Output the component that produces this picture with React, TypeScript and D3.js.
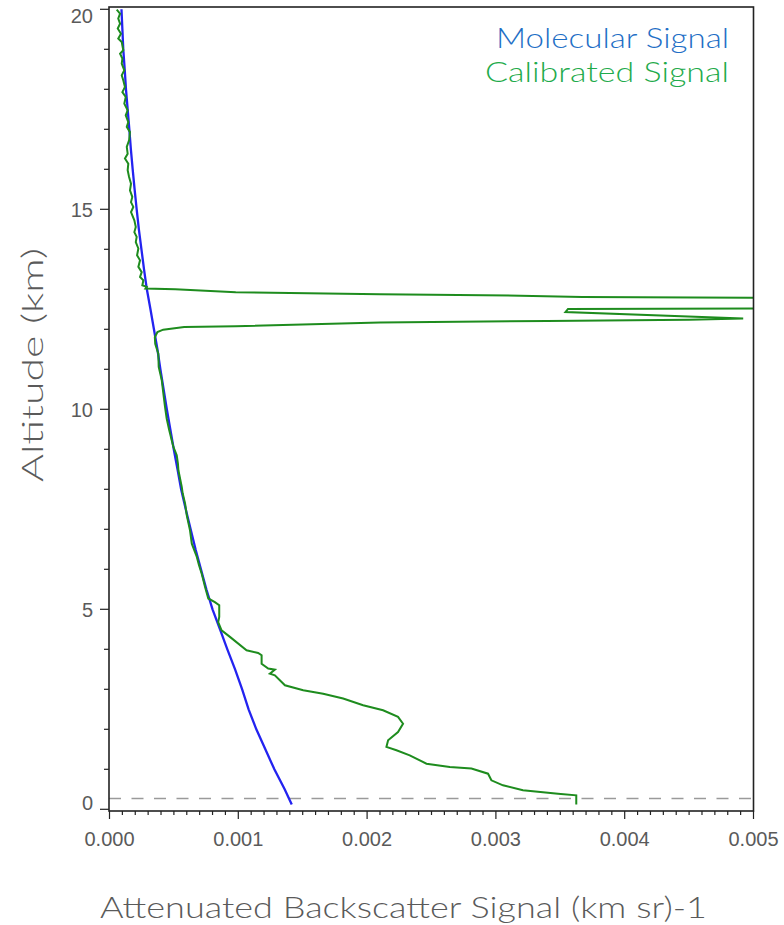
import React from "react";
import * as d3 from "d3";

// Axis ticks
const xTicks = [0, 0.001, 0.002, 0.003, 0.004, 0.005];
const xTickLabels = ["0.000", "0.001", "0.002", "0.003", "0.004", "0.005"];
const yTicks = [0, 5, 10, 15, 20];
const yTickLabels = ["0", "5", "10", "15", "20"];

// Molecular (Rayleigh) attenuated backscatter profile: altitude (km) / signal
const molecularAlt = [
  0.12, 0.5, 1.0, 1.5, 2.0, 2.5, 3.0, 3.5, 4.0, 4.5, 5.0, 5.5, 6.0, 6.5, 7.0,
  7.5, 8.0, 8.5, 9.0, 9.5, 10.0, 10.5, 11.0, 11.5, 12.0, 12.5, 13.0, 13.5, 14.0,
  14.5, 15.0, 15.5, 16.0, 16.5, 17.0, 17.5, 18.0, 18.5, 19.0, 19.5, 20.0,
];
const molecularVal = [
  0.001415, 0.00136, 0.00128, 0.00121, 0.00114, 0.00108, 0.00103, 0.000975,
  0.000915, 0.000858, 0.0008, 0.000752, 0.00071, 0.000668, 0.00063, 0.000592,
  0.000556, 0.000528, 0.000499, 0.000472, 0.000445, 0.00042, 0.000395,
  0.000372, 0.000345, 0.000318, 0.00029, 0.000268, 0.000248, 0.000228,
  0.000211, 0.000195, 0.00018, 0.000166, 0.000154, 0.000141, 0.000128,
  0.000118, 0.000107, 0.0001, 0.000093,
];

// Calibrated lidar profile: altitude (km) / signal (cirrus layer runs off scale)
const calibratedAlt = [
  0.12, 0.35, 0.39, 0.475, 0.6, 0.725, 0.89, 1.02, 1.06, 1.14, 1.35, 1.475,
  1.56, 1.725, 1.93, 2.14, 2.31, 2.475, 2.6, 2.77, 2.89, 2.975, 3.1, 3.35, 3.39,
  3.49, 3.52, 3.64, 3.85, 3.91, 3.975, 4.31, 4.475, 4.68, 4.81, 5.1, 5.18, 5.27,
  5.56, 5.89, 6.1, 6.31, 6.64, 6.975, 7.35, 7.64, 7.9, 8.06, 8.475, 8.65, 8.85,
  9.06, 9.225, 9.5, 9.77, 10.06, 10.4, 10.725, 11.06, 11.39, 11.64, 11.8, 11.93,
  11.99, 12.06, 12.075, 12.17, 12.21, 12.24, 12.27, 12.43, 12.51, 12.53, 12.65,
  12.78, 12.79, 12.81, 12.84, 12.875, 12.925, 13.0, 13.02, 13.06, 13.1, 13.225,
  13.31, 13.43, 13.56, 13.725, 13.85, 14.02, 14.18, 14.31, 14.43, 14.56, 14.725,
  14.93, 15.06, 15.18, 15.31, 15.475, 15.64, 15.81, 15.975, 16.14, 16.27, 16.39,
  16.56, 16.725, 16.93, 17.06, 17.18, 17.35, 17.475, 17.64, 17.81, 17.93, 18.06,
  18.225, 18.35, 18.475, 18.64, 18.77, 18.89, 18.975, 19.18, 19.27, 19.39,
  19.52, 19.64, 19.77, 19.89, 19.99,
];
const calibratedVal = [
  0.003624, 0.003624, 0.003482, 0.00321, 0.003055, 0.002965, 0.002939,
  0.00281, 0.002642, 0.002461, 0.002331, 0.002228, 0.00215, 0.002163, 0.00224,
  0.002279, 0.00224, 0.002124, 0.001969, 0.001814, 0.001659, 0.001504,
  0.001362, 0.001284, 0.001245, 0.001284, 0.001232, 0.001181, 0.001181,
  0.001154, 0.001064, 0.000935, 0.00087, 0.000844, 0.000852, 0.000852,
  0.000818, 0.000767, 0.000742, 0.000716, 0.000695, 0.000678, 0.000639,
  0.000625, 0.0006, 0.000587, 0.000568, 0.000561, 0.000535, 0.000531,
  0.000522, 0.000496, 0.000483, 0.000462, 0.000444, 0.000431, 0.000418,
  0.000406, 0.000382, 0.000379, 0.000355, 0.000352, 0.000372, 0.000417,
  0.00058, 0.00098, 0.0021, 0.0034, 0.0045, 0.00492, 0.00354, 0.00356, 0.0058,
  0.0085, 0.0053, 0.00498, 0.00367, 0.00319, 0.0021, 0.00098, 0.00051, 0.00028,
  0.000289, 0.000255, 0.000263, 0.000237, 0.00025, 0.000224, 0.000237,
  0.000214, 0.000224, 0.000204, 0.000211, 0.000193, 0.000204, 0.000193,
  0.000167, 0.000185, 0.000167, 0.000177, 0.000159, 0.000167, 0.000152,
  0.000141, 0.000146, 0.00012, 0.000141, 0.000134, 0.000152, 0.000159,
  0.000134, 0.000146, 0.000126, 0.000141, 0.000115, 0.000126, 0.0001, 0.00012,
  0.000107, 0.000095, 0.000115, 0.000095, 0.0001, 0.000082, 0.000107, 0.000095,
  0.000068, 0.000089, 0.000064, 0.000082, 0.000068, 0.000082, 0.000056,
];

// Ground reference level (km)
const groundAlt = 0.27;

const legendLabels = ["Molecular Signal", "Calibrated Signal"];
const legendColors = ["#1f6fc6", "#1fab4c"];
const legendWidths = [233, 244];

export default function App() {
  const W = 784;
  const H = 925;
  const frame = { left: 109, right: 753.5, top: 7, bottom: 811 };

  const x = d3.scaleLinear().domain([0, 0.005]).range([109.5, 753.5]);
  const y = d3.scaleLinear().domain([0, 20]).range([809.3, 9.3]);

  const line = d3
    .line<[number, number]>()
    .x((d) => x(d[0]))
    .y((d) => y(d[1]));

  const molecular: [number, number][] = molecularAlt.map((a, i) => [molecularVal[i], a]);
  const calibrated: [number, number][] = calibratedAlt.map((a, i) => [calibratedVal[i], a]);

  const xMinor = d3.range(0, 51).map((i) => i * 0.0001);
  const yMinor = d3.range(0, 21);

  const tickFont = "'Liberation Sans', Arial, sans-serif";
  const titleFont = "Lato, 'Open Sans', sans-serif";
  const labelColor = "#5a5a5a";

  return (
    <svg
      width={W}
      height={H}
      style={{ position: "absolute", left: 0, top: 0, background: "#fff" }}
    >
      <defs>
        <clipPath id="plot-clip">
          <rect
            x={frame.left}
            y={frame.top}
            width={frame.right - frame.left}
            height={frame.bottom - frame.top}
          />
        </clipPath>
      </defs>

      {/* ground reference line */}
      <line
        x1={frame.left}
        x2={frame.right}
        y1={y(groundAlt)}
        y2={y(groundAlt)}
        stroke="#9a9a9a"
        strokeWidth={1.3}
        strokeDasharray="12 10.5"
      />

      <g clipPath="url(#plot-clip)">
        <path d={line(molecular) ?? ""} fill="none" stroke="#2323f0" strokeWidth={2.3} />
        <path d={line(calibrated) ?? ""} fill="none" stroke="#1e8c1e" strokeWidth={2} />
      </g>

      {/* frame */}
      <rect
        x={frame.left}
        y={frame.top}
        width={frame.right - frame.left}
        height={frame.bottom - frame.top}
        fill="none"
        stroke="#222"
        strokeWidth={1.6}
      />

      {/* x ticks */}
      {xMinor.map((t, i) => (
        <line
          key={"xm" + i}
          x1={x(t)}
          x2={x(t)}
          y1={frame.bottom}
          y2={frame.bottom + (i % 10 === 0 ? 8 : 4)}
          stroke="#222"
          strokeWidth={1.2}
        />
      ))}
      {xTicks.map((t, i) => (
        <text
          key={"xl" + i}
          x={x(t)}
          y={846}
          textAnchor="middle"
          fontFamily={tickFont}
          fontSize={20}
          fill={labelColor}
        >
          {xTickLabels[i]}
        </text>
      ))}

      {/* y ticks */}
      {yMinor.map((t, i) => (
        <line
          key={"ym" + i}
          x1={frame.left}
          x2={frame.left - (t % 5 === 0 ? 9 : 5)}
          y1={y(t)}
          y2={y(t)}
          stroke="#222"
          strokeWidth={1.2}
        />
      ))}
      {yTicks.map((t, i) => (
        <text
          key={"yl" + i}
          x={93}
          y={Math.min(Math.max(y(t), frame.top + 9), frame.bottom - 8)}
          dy="0.36em"
          textAnchor="end"
          fontFamily={tickFont}
          fontSize={20}
          fill={labelColor}
        >
          {yTickLabels[i]}
        </text>
      ))}

      {/* axis titles */}
      <text
        x={100}
        y={918}
        fontFamily={titleFont}
        fontWeight={300}
        fontSize={30}
        fill={labelColor}
        textLength={607}
        lengthAdjust="spacingAndGlyphs"
      >
        Attenuated Backscatter Signal (km sr)-1
      </text>
      <text
        transform="translate(43,482) rotate(-90)"
        fontFamily={titleFont}
        fontWeight={300}
        fontSize={30}
        fill={labelColor}
        textLength={234}
        lengthAdjust="spacingAndGlyphs"
      >
        Altitude (km)
      </text>

      {/* legend */}
      {legendLabels.map((lab, i) => (
        <text
          key={lab}
          x={729 - legendWidths[i]}
          y={48 + i * 34}
          fontFamily={titleFont}
          fontWeight={300}
          fontSize={27}
          fill={legendColors[i]}
          textLength={legendWidths[i]}
          lengthAdjust="spacingAndGlyphs"
        >
          {lab}
        </text>
      ))}
    </svg>
  );
}
